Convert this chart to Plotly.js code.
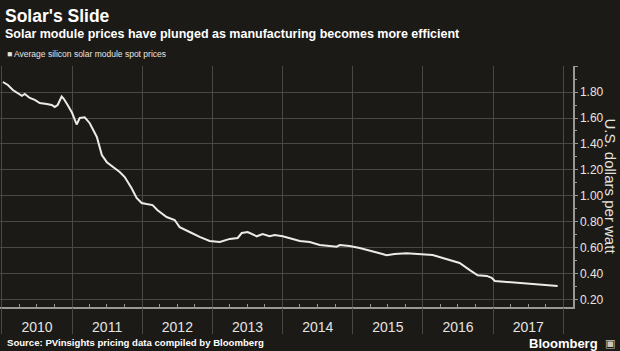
<!DOCTYPE html>
<html>
<head>
<meta charset="utf-8">
<script src="https://cdn.plot.ly/plotly-3.0.1.min.js"></script>
<style>
html,body{margin:0;padding:0;background:#1c1a17;}
#chart{width:620px;height:351px;}
</style>
</head>
<body>
<div id="chart"></div>
<script>
const dates = [
"2010-01-06","2010-02-01","2010-02-27","2010-03-25","2010-04-15","2010-04-30","2010-05-26","2010-06-21",
"2010-07-17","2010-08-22","2010-09-17","2010-10-03","2010-10-18","2010-11-08","2010-11-18","2010-12-09",
"2011-01-01","2011-01-25","2011-02-10","2011-03-08","2011-04-03","2011-05-10","2011-06-05","2011-07-01",
"2011-08-01","2011-09-06","2011-10-02","2011-11-07","2011-12-03","2011-12-29","2012-01-24","2012-02-24",
"2012-03-21","2012-05-07","2012-06-18","2012-07-14","2012-09-04","2012-10-26","2012-12-17","2013-02-08",
"2013-04-01","2013-05-12","2013-06-02","2013-07-03","2013-08-19","2013-09-19","2013-10-25","2013-11-20",
"2014-01-01","2014-02-07","2014-03-31","2014-05-22","2014-07-13","2014-09-03","2014-10-09","2014-10-25",
"2014-12-15","2015-02-06","2015-03-30","2015-05-21","2015-06-26","2015-08-07","2015-10-08","2015-12-14",
"2016-02-21","2016-04-13","2016-05-30","2016-07-10","2016-09-01","2016-10-12","2016-11-28","2016-12-24",
"2017-01-09","2017-03-12","2017-05-18","2017-08-14","2017-10-05","2017-12-02"
];
const prices = [
1.877,1.854,1.815,1.790,1.770,1.785,1.754,1.740,
1.715,1.708,1.700,1.685,1.700,1.765,1.750,1.700,
1.640,1.550,1.600,1.605,1.560,1.454,1.315,1.260,
1.223,1.185,1.146,1.060,0.985,0.946,0.938,0.930,
0.890,0.838,0.815,0.760,0.723,0.685,0.654,0.646,
0.670,0.677,0.715,0.723,0.690,0.708,0.690,0.700,
0.690,0.677,0.654,0.646,0.623,0.615,0.610,0.623,
0.615,0.600,0.577,0.560,0.545,0.554,0.560,0.554,
0.546,0.523,0.500,0.485,0.430,0.390,0.385,0.370,
0.346,0.338,0.330,0.323,0.315,0.308
];
const seriesName = "Average silicon solar module spot prices";
const yTickVals = [0.2,0.4,0.6,0.8,1.0,1.2,1.4,1.6,1.8,2.0];
const yTickText = ["0.20","0.40","0.60","0.80","1.00","1.20","1.40","1.60","1.80",""];
const titleText = "Solar's Slide";
const subtitleText = "Solar module prices have plunged as manufacturing becomes more efficient";
const sourceText = "Source: PVinsights pricing data compiled by Bloomberg";
const yTitle = "U.S. dollars per watt";

const bg = "#1c1a17";
const grid = "#4a4843";
const fg = "#e6e4e0";
const xRange = ["2009-12-22","2018-02-20"];
const narrow = "Liberation Sans Narrow, Arial Narrow, sans-serif";

const traces = [
  {x: dates, y: prices, type: "scatter", mode: "lines", name: seriesName,
   line: {color: "#ecebe8", width: 2}, hoverinfo: "skip", xaxis: "x", yaxis: "y"},
  {x: dates, y: prices, type: "scatter", mode: "lines", showlegend: false,
   line: {color: "rgba(0,0,0,0)", width: 0}, hoverinfo: "skip", xaxis: "x2", yaxis: "y"}
];

const layout = {
  width: 620, height: 351,
  paper_bgcolor: bg, plot_bgcolor: bg,
  margin: {l: 0, r: 47, t: 66, b: 44},
  showlegend: false,
  font: {family: narrow, color: fg},
  xaxis: {
    type: "date", range: xRange,
    tick0: "2010-01-01", dtick: "M12", ticklabelmode: "period", tickformat: "%Y",
    showgrid: true, gridcolor: grid, gridwidth: 1,
    ticks: "", showline: true, linecolor: "#9a9893", linewidth: 1.5,
    ticklabelstandoff: 7,
    tickfont: {family: narrow, size: 14, color: fg},
    zeroline: false,
    minor: {tick0: "2010-01-01", dtick: "M3", ticks: "inside", ticklen: 3, tickcolor: "#9a9893", showgrid: false}
  },
  xaxis2: {
    type: "date", overlaying: "x", matches: "x", anchor: "y", side: "bottom",
    tick0: "2010-01-01", dtick: "M12",
    showgrid: false, showticklabels: false, showline: false, zeroline: false,
    ticks: "outside", ticklen: 26, tickcolor: grid, tickwidth: 1
  },
  yaxis: {
    range: [0.146, 2.0], side: "right",
    tickvals: yTickVals, ticktext: yTickText,
    showgrid: true, gridcolor: grid, gridwidth: 1,
    showline: true, linecolor: "#9a9893", linewidth: 1.5,
    ticks: "outside", ticklen: 3, tickcolor: "#9a9893",
    tickfont: {family: narrow, size: 12, color: fg},
    zeroline: false,
    minor: {tick0: 0, dtick: 0.1, ticks: "outside", ticklen: 2, tickcolor: "#9a9893", showgrid: false}
  },
  annotations: [
    {text: "<b>" + titleText + "</b>", xref: "paper", yref: "paper", x: 0, y: 1, xanchor: "left", yanchor: "middle",
     xshift: 3, yshift: 50, showarrow: false, font: {size: 17.5, color: "#ffffff", family: narrow}},
    {text: "<b>" + subtitleText + "</b>", xref: "paper", yref: "paper", x: 0, y: 1, xanchor: "left", yanchor: "middle",
     xshift: 3, yshift: 32, showarrow: false, font: {size: 12.5, color: "#ffffff", family: narrow}},
    {text: "■ " + seriesName, xref: "paper", yref: "paper", x: 0, y: 1, xanchor: "left", yanchor: "middle",
     xshift: 5, yshift: 12, showarrow: false, font: {size: 8.5, color: fg, family: narrow}},
    {text: "<b>" + sourceText + "</b>", xref: "paper", yref: "paper", x: 0, y: 0, xanchor: "left", yanchor: "middle",
     xshift: 5, yshift: -35, showarrow: false, font: {size: 9.6, color: "#ffffff", family: narrow}},
    {text: "<b>Bloomberg</b>", xref: "paper", yref: "paper", x: 1, y: 0, xanchor: "right", yanchor: "middle",
     xshift: 27, yshift: -36, showarrow: false, font: {size: 13, color: "#ffffff", family: "Liberation Sans, sans-serif"}},
    {text: "▣", xref: "paper", yref: "paper", x: 1, y: 0, xanchor: "left", yanchor: "middle",
     xshift: 30, yshift: -36, showarrow: false, font: {size: 11, color: "#c8c6c2", family: "DejaVu Sans, sans-serif"}},
    {text: yTitle, xref: "paper", yref: "paper", x: 1, y: 0.5, xanchor: "center", yanchor: "middle",
     xshift: 37, showarrow: false, textangle: 90, font: {size: 15, color: fg, family: narrow}}
  ]
};

Plotly.newPlot("chart", traces, layout, {displayModeBar: false, staticPlot: true});
</script>
</body>
</html>
